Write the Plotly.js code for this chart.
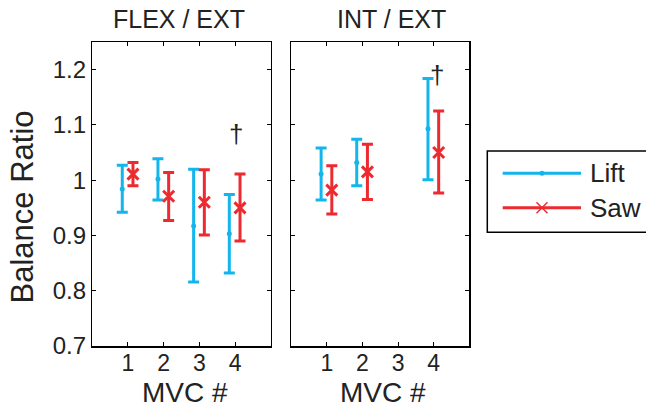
<!DOCTYPE html>
<html>
<head>
<meta charset="utf-8">
<script src="https://cdn.plot.ly/plotly-3.0.1.min.js"></script>
<style>html,body{margin:0;padding:0;background:#fff;}#chart{width:646px;height:407px;}</style>
</head>
<body>
<div id="chart"></div>
<script>
// ---- data ----
var mvc = [1, 2, 3, 4];
var tickVals = [0.7, 0.8, 0.9, 1.0, 1.1, 1.2];
var tickText = ["0.7", "0.8", "0.9", "1", "1.1", "1.2"];

// FLEX / EXT
var flexLift   = [0.984, 1.002, 0.917, 0.903];
var flexLiftHi = [1.027, 1.039, 1.020, 0.974];
var flexLiftLo = [0.942, 0.964, 0.816, 0.832];
var flexSaw    = [1.011, 0.971, 0.960, 0.950];
var flexSawHi  = [1.032, 1.014, 1.019, 1.011];
var flexSawLo  = [0.990, 0.927, 0.901, 0.890];

// INT / EXT
var intLift   = [1.011, 1.032, null, 1.093];
var intLiftHi = [1.058, 1.074, null, 1.184];
var intLiftLo = [0.964, 0.990, null, 1.001];
var intSaw    = [0.982, 1.015, null, 1.050];
var intSawHi  = [1.026, 1.065, null, 1.125];
var intSawLo  = [0.939, 0.965, null, 0.977];

var blue = '#12b5ec';
var red = '#ec2a2f';
var txt = '#222222';
var FONT = 'Liberation Sans, Arial, Helvetica, sans-serif';

function up(v, hi) { return v.map(function (d, i) { return d == null ? null : hi[i] - d; }); }
function dn(v, lo) { return v.map(function (d, i) { return d == null ? null : d - lo[i]; }); }
function shift(off) { return mvc.map(function (m) { return m + off; }); }

function liftTrace(y, hi, lo, xa, ya) {
  return {
    x: shift(-0.16), y: y, xaxis: xa, yaxis: ya, type: 'scatter', mode: 'markers',
    name: 'Lift', showlegend: false,
    marker: {color: blue, size: 5, symbol: 'circle'},
    error_y: {type: 'data', array: up(y, hi), arrayminus: dn(y, lo), visible: true,
              color: blue, thickness: 3, width: 5.5}
  };
}
function sawTrace(y, hi, lo, xa, ya) {
  return {
    x: shift(0.14), y: y, xaxis: xa, yaxis: ya, type: 'scatter', mode: 'markers',
    name: 'Saw', showlegend: false,
    marker: {color: red, size: 11, symbol: 'x-thin', line: {color: red, width: 3}},
    error_y: {type: 'data', array: up(y, hi), arrayminus: dn(y, lo), visible: true,
              color: red, thickness: 3, width: 5.5}
  };
}

var traces = [
  liftTrace(flexLift, flexLiftHi, flexLiftLo, 'x', 'y'),
  sawTrace(flexSaw, flexSawHi, flexSawLo, 'x', 'y'),
  liftTrace(intLift, intLiftHi, intLiftLo, 'x2', 'y2'),
  sawTrace(intSaw, intSawHi, intSawLo, 'x2', 'y2')
];

var W = 646, H = 407;
function px(x) { return x / W; }
function py(y) { return 1 - y / H; }

var xBase = {
  range: [0, 5], tickvals: mvc, ticktext: mvc.map(String),
  ticks: 'inside', ticklen: 4, tickwidth: 1, tickcolor: '#000',
  showline: true, linecolor: '#000', linewidth: 1.5, mirror: 'ticks',
  showgrid: false, zeroline: false, fixedrange: true,
  ticklabelstandoff: -4,
  tickfont: {family: FONT, size: 23, color: txt}
};
var yBase = {
  range: [0.7, 1.25], tickvals: tickVals, ticktext: tickText,
  ticks: 'inside', ticklen: 4, tickwidth: 1, tickcolor: '#000',
  showline: true, linecolor: '#000', linewidth: 1.5, mirror: 'ticks',
  showgrid: false, zeroline: false, fixedrange: true,
  tickfont: {family: FONT, size: 24, color: txt}
};

var layout = {
  width: W, height: H,
  margin: {l: 0, r: 0, t: 0, b: 0},
  paper_bgcolor: '#fff', plot_bgcolor: '#fff',
  showlegend: false,
  xaxis: Object.assign({}, xBase, {domain: [px(92.3), px(270.7)], anchor: 'y'}),
  yaxis: Object.assign({}, yBase, {domain: [py(346), py(42)], anchor: 'x'}),
  xaxis2: Object.assign({}, xBase, {domain: [px(291.2), px(469.3)], anchor: 'y2'}),
  yaxis2: Object.assign({}, yBase, {domain: [py(346), py(42)], anchor: 'x2', showticklabels: false}),
  annotations: [
    {text: 'FLEX / EXT', xref: 'paper', yref: 'paper', x: px(179), y: py(35), xanchor: 'center', yanchor: 'bottom',
     showarrow: false, font: {family: FONT, size: 25, color: txt}},
    {text: 'INT / EXT', xref: 'paper', yref: 'paper', x: px(391), y: py(35), xanchor: 'center', yanchor: 'bottom',
     showarrow: false, font: {family: FONT, size: 25, color: txt}},
    {text: 'MVC #', xref: 'paper', yref: 'paper', x: px(185), y: py(375), xanchor: 'center', yanchor: 'top',
     showarrow: false, font: {family: FONT, size: 28, color: txt}},
    {text: 'MVC #', xref: 'paper', yref: 'paper', x: px(383), y: py(375), xanchor: 'center', yanchor: 'top',
     showarrow: false, font: {family: FONT, size: 28, color: txt}},
    {text: 'Balance Ratio', xref: 'paper', yref: 'paper', x: px(22), y: py(207.5), xanchor: 'center', yanchor: 'middle',
     textangle: -90, showarrow: false, font: {family: FONT, size: 31, color: txt}},
    {text: '†', xref: 'x', yref: 'y', x: 4.02, y: 1.083, xanchor: 'center', yanchor: 'middle',
     showarrow: false, font: {family: FONT, size: 26, color: txt}},
    {text: '†', xref: 'x2', yref: 'y2', x: 4.1, y: 1.19, xanchor: 'center', yanchor: 'middle',
     showarrow: false, font: {family: FONT, size: 26, color: txt}},
    {text: 'Lift', xref: 'paper', yref: 'paper', x: px(588), y: py(173.3), xanchor: 'left', yanchor: 'middle',
     showarrow: false, font: {family: FONT, size: 26, color: txt}},
    {text: 'Saw', xref: 'paper', yref: 'paper', x: px(588), y: py(207.7), xanchor: 'left', yanchor: 'middle',
     showarrow: false, font: {family: FONT, size: 26, color: txt}}
  ],
  shapes: [
    {type: 'rect', xref: 'paper', yref: 'paper', x0: px(487.3), x1: px(660), y0: py(232.3), y1: py(151),
     line: {color: '#000', width: 1.5}, fillcolor: 'rgba(0,0,0,0)'},
    {type: 'line', xref: 'paper', yref: 'paper', x0: px(502.7), x1: px(581), y0: py(173.3), y1: py(173.3),
     line: {color: blue, width: 3}},
    {type: 'circle', xref: 'paper', yref: 'paper', x0: px(539.5), x1: px(544.5), y0: py(175.8), y1: py(170.8),
     line: {color: blue, width: 0}, fillcolor: blue},
    {type: 'line', xref: 'paper', yref: 'paper', x0: px(502.7), x1: px(581), y0: py(207.7), y1: py(207.7),
     line: {color: red, width: 3}},
    {type: 'line', xref: 'paper', yref: 'paper', x0: px(536.5), x1: px(547.5), y0: py(202.2), y1: py(213.2),
     line: {color: red, width: 1.5}},
    {type: 'line', xref: 'paper', yref: 'paper', x0: px(536.5), x1: px(547.5), y0: py(213.2), y1: py(202.2),
     line: {color: red, width: 1.5}}
  ]
};

Plotly.newPlot('chart', traces, layout, {displayModeBar: false, staticPlot: true});
</script>
</body>
</html>
